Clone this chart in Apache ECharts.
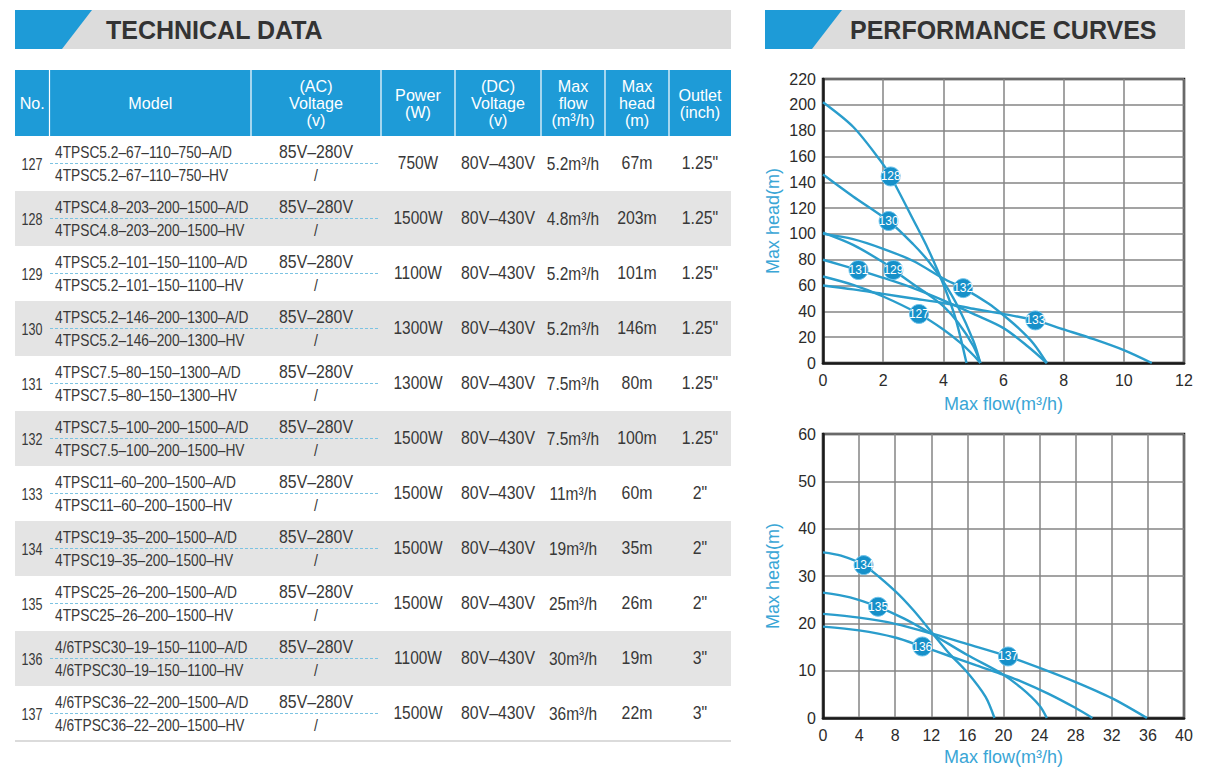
<!DOCTYPE html>
<html><head><meta charset="utf-8">
<script src="https://cdn.jsdelivr.net/npm/echarts@6.0.0/dist/echarts.min.js"></script>
<style>html,body{margin:0;padding:0;background:#fff;}#c{width:1208px;height:772px;}</style>
</head><body><div id="c"></div>
<script>
// ---------- Table data ----------
const rowNo = ['127','128','129','130','131','132','133','134','135','136','137'];
const modelAD = ['4TPSC5.2–67–110–750–A/D','4TPSC4.8–203–200–1500–A/D','4TPSC5.2–101–150–1100–A/D','4TPSC5.2–146–200–1300–A/D','4TPSC7.5–80–150–1300–A/D','4TPSC7.5–100–200–1500–A/D','4TPSC11–60–200–1500–A/D','4TPSC19–35–200–1500–A/D','4TPSC25–26–200–1500–A/D','4/6TPSC30–19–150–1100–A/D','4/6TPSC36–22–200–1500–A/D'];
const modelHV = ['4TPSC5.2–67–110–750–HV','4TPSC4.8–203–200–1500–HV','4TPSC5.2–101–150–1100–HV','4TPSC5.2–146–200–1300–HV','4TPSC7.5–80–150–1300–HV','4TPSC7.5–100–200–1500–HV','4TPSC11–60–200–1500–HV','4TPSC19–35–200–1500–HV','4TPSC25–26–200–1500–HV','4/6TPSC30–19–150–1100–HV','4/6TPSC36–22–200–1500–HV'];
const acVoltage = ['85V–280V','85V–280V','85V–280V','85V–280V','85V–280V','85V–280V','85V–280V','85V–280V','85V–280V','85V–280V','85V–280V'];
const acVoltageHV = ['/','/','/','/','/','/','/','/','/','/','/'];
const power = ['750W','1500W','1100W','1300W','1300W','1500W','1500W','1500W','1500W','1100W','1500W'];
const dcVoltage = ['80V–430V','80V–430V','80V–430V','80V–430V','80V–430V','80V–430V','80V–430V','80V–430V','80V–430V','80V–430V','80V–430V'];
const maxFlow = ['5.2m³/h','4.8m³/h','5.2m³/h','5.2m³/h','7.5m³/h','7.5m³/h','11m³/h','19m³/h','25m³/h','30m³/h','36m³/h'];
const maxHead = ['67m','203m','101m','146m','80m','100m','60m','35m','26m','19m','22m'];
const outlet = ['1.25"','1.25"','1.25"','1.25"','1.25"','1.25"','2"','2"','2"','3"','3"'];
const headerLabels = ['No.','Model','(AC)\nVoltage\n(v)','Power\n(W)','(DC)\nVoltage\n(v)','Max\nflow\n(m³/h)','Max\nhead\n(m)','Outlet\n(inch)'];

// ---------- Curve data (flow m³/h, head m) ----------
const c127 = [[0,67],[1,60.5],[2,51.5],[3.19,38],[4,26],[4.6,15],[5,6],[5.23,0]];
const c128 = [[0,202],[1,183],[1.9,157],[2.25,144.5],[3,111],[3.5,88],[4,61],[4.4,35],[4.77,0]];
const c129 = [[0,101],[1,91.5],[2,78],[2.34,72],[3,61],[3.5,53],[4,44],[4.5,31],[5,13],[5.23,0]];
const c130 = [[0,146],[1,129],[2.18,110],[3,92],[3.5,79],[4,63],[4.5,43],[5,17],[5.23,0]];
const c131 = [[0,80],[1.18,72],[2,66],[3,58],[4,48.5],[5,38],[6,27],[6.8,13],[7.44,0]];
const c132 = [[0,100],[1,96],[2,88.5],[3,79],[4,65.5],[4.66,58],[5.5,46],[6,37],[6.5,27],[7,15],[7.44,0]];
const c133 = [[0,60],[1,57],[2,53.5],[3,50],[4,46.5],[5,42],[6,38],[7.06,33],[8,26],[9,18.5],[10,10],[10.93,0]];
const c134 = [[0,35],[2,34.3],[4.5,32.3],[8,26.8],[10,22.8],[12.3,17.5],[14,13.6],[16,9.6],[18,4.5],[19,0]];
const c135 = [[0,26.5],[3,25.5],[6.1,23.5],[9,21],[12.3,17.5],[16,13.3],[19.6,9.6],[22,6.3],[24,2.6],[24.8,0]];
const c136 = [[0,19.3],[4,18.5],[8,17],[11,15.1],[14,13.1],[17,11.1],[19.6,9.4],[22,7.7],[25,5.1],[28,2.1],[29.85,0]];
const c137 = [[0,22],[4,21.2],[8,19.9],[12.3,17.7],[16,15.6],[20.5,13],[24,10.6],[28,7.6],[32,4.2],[35.9,0]];
const labels1 = [[2.25,144.5,'128'],[2.18,110,'130'],[2.34,72,'129'],[1.18,72,'131'],[4.66,58,'132'],[3.19,38,'127'],[7.06,33,'133']];
const labels2 = [[4.5,32.3,'134'],[6.1,23.5,'135'],[11,15.1,'136'],[20.5,13,'137']];

// ---------- Build table graphics ----------
const FONT = "'Liberation Sans', Arial, sans-serif";
const BLUE = '#1e9bd7';
const TXT = '#383838';
const g = [];
function txt(x, y, text, o) {
  o = o || {};
  g.push({type:'text', x:x, y:y, scaleX:o.sx || 1, z:10,
    style:{text:text, fill:o.fill || TXT, fontSize:o.fs || 18, fontFamily:FONT, fontWeight:o.fw || 'normal',
      align:o.align || 'center', verticalAlign:'middle', lineHeight:o.lh || 17}});
}
// title bars
function titleBar(x0, x1, label, tx) {
  g.push({type:'rect', shape:{x:x0, y:10, width:x1-x0, height:39}, style:{fill:'#dcdcdc'}});
  g.push({type:'polygon', shape:{points:[[x0,10],[x0+77,10],[x0+47,49],[x0,49]]}, style:{fill:BLUE}});
  txt(tx, 30, label, {fs:25, fw:'bold', align:'left', fill:'#333'});
}
titleBar(15, 731, 'TECHNICAL DATA', 106);
titleBar(765, 1185, 'PERFORMANCE CURVES', 850);

const colEdges = [15, 49.5, 251, 381, 455, 541, 605, 669, 731];
const tTop = 70, hHeight = 66, rowH = 55;
g.push({type:'rect', shape:{x:15, y:tTop, width:716, height:hHeight}, style:{fill:BLUE}});
for (let i = 1; i < colEdges.length - 1; i++) {
  g.push({type:'line', shape:{x1:colEdges[i], y1:tTop, x2:colEdges[i], y2:tTop+hHeight}, style:{stroke:'#ffffff', lineWidth:1.2}, z:5});
}
headerLabels.forEach((h, i) => {
  const cx = (colEdges[i] + colEdges[i+1]) / 2;
  txt(cx, 103.5, h, {fill:'#ffffff', fs:17, sx:0.95, lh:17});
});
const rTop = tTop + hHeight;
rowNo.forEach((n, i) => {
  const y0 = rTop + i * rowH, cy = y0 + rowH / 2;
  if (i % 2 === 1) g.push({type:'rect', shape:{x:15, y:y0, width:716, height:rowH}, style:{fill:'#e4e4e4'}});
  g.push({type:'line', shape:{x1:50, y1:cy, x2:378, y2:cy}, style:{stroke:'#7cc3e2', lineWidth:1, lineDash:[3,2]}, z:5});
  txt(32, cy, n, {fs:17, sx:0.74});
  txt(55, cy - 11, modelAD[i], {fs:16, sx:0.86, align:'left'});
  txt(55, cy + 12, modelHV[i], {fs:16, sx:0.86, align:'left'});
  txt(316, cy - 11, acVoltage[i], {fs:18, sx:0.88});
  txt(316, cy + 12, acVoltageHV[i], {fs:16, sx:0.88});
  txt(418, cy, power[i], {fs:18, sx:0.86});
  txt(498, cy, dcVoltage[i], {fs:18, sx:0.88});
  txt(573, cy + 1, maxFlow[i], {fs:18, sx:0.86});
  txt(637, cy, maxHead[i], {fs:18, sx:0.88});
  txt(700, cy, outlet[i], {fs:18, sx:0.88});
});
g.push({type:'line', shape:{x1:15, y1:rTop + 11*rowH, x2:731, y2:rTop + 11*rowH}, style:{stroke:'#cfcfcf', lineWidth:1.5}});

// ---------- Charts ----------
const LINE = '#2a9dcc';
const NAMEC = '#3aa6d6';
function xAxis(idx, max, interval, gap) {
  return {type:'value', gridIndex:idx, min:0, max:max, interval:interval,
    name:'Max flow(m³/h)', nameLocation:'middle', nameGap:gap,
    nameTextStyle:{color:NAMEC, fontSize:18, fontFamily:FONT},
    axisLine:{show:true, onZero:false, lineStyle:{color:'#1a1a1a', width:2.5}},
    axisTick:{show:false},
    axisLabel:{color:'#2b2b2b', fontSize:16, fontFamily:FONT, margin:9},
    splitLine:{show:true, lineStyle:{color:'#858585', width:1.5}}};
}
function yAxis(idx, max, interval) {
  return {type:'value', gridIndex:idx, min:0, max:max, interval:interval,
    name:'Max head(m)', nameLocation:'middle', nameGap:41,
    nameTextStyle:{color:NAMEC, fontSize:18, fontFamily:FONT},
    axisLine:{show:true, lineStyle:{color:'#1a1a1a', width:2.5}},
    axisTick:{show:false},
    axisLabel:{color:'#2b2b2b', fontSize:16, fontFamily:FONT, margin:7},
    splitLine:{show:true, lineStyle:{color:'#858585', width:1.5}}};
}
function curve(data, gi) {
  return {type:'line', xAxisIndex:gi, yAxisIndex:gi, data:data, showSymbol:false, smooth:0.3,
    lineStyle:{color:LINE, width:2.4}, silent:true, z:3};
}
function tags(data, gi) {
  return {type:'scatter', xAxisIndex:gi, yAxisIndex:gi, data:data, symbolSize:19, z:5,
    itemStyle:{color:'#1690c9', opacity:1, borderColor:'#6fc4ec', borderWidth:1},
    label:{show:true, position:'inside', formatter:p => p.value[2], color:'#fff', fontSize:12,
      fontFamily:"'Liberation Sans Narrow', 'Liberation Sans', sans-serif"}};
}

const chart = echarts.init(document.getElementById('c'), null, {renderer:'svg', width:1208, height:772});
chart.setOption({
  animation:false,
  backgroundColor:'#ffffff',
  grid:[
    {left:823, top:79, width:361, height:284, show:true, borderColor:'#1a1a1a', borderWidth:2.5, outerBoundsMode:'none'},
    {left:823, top:434, width:361, height:284, show:true, borderColor:'#1a1a1a', borderWidth:2.5, outerBoundsMode:'none'}
  ],
  xAxis:[xAxis(0, 12, 2, 32), xAxis(1, 40, 4, 30)],
  yAxis:[yAxis(0, 220, 20), yAxis(1, 60, 10)],
  series:[
    curve(c127,0), curve(c128,0), curve(c129,0), curve(c130,0), curve(c131,0), curve(c132,0), curve(c133,0),
    curve(c134,1), curve(c135,1), curve(c136,1), curve(c137,1),
    tags(labels1,0), tags(labels2,1)
  ],
  graphic:g
});
</script></body></html>
